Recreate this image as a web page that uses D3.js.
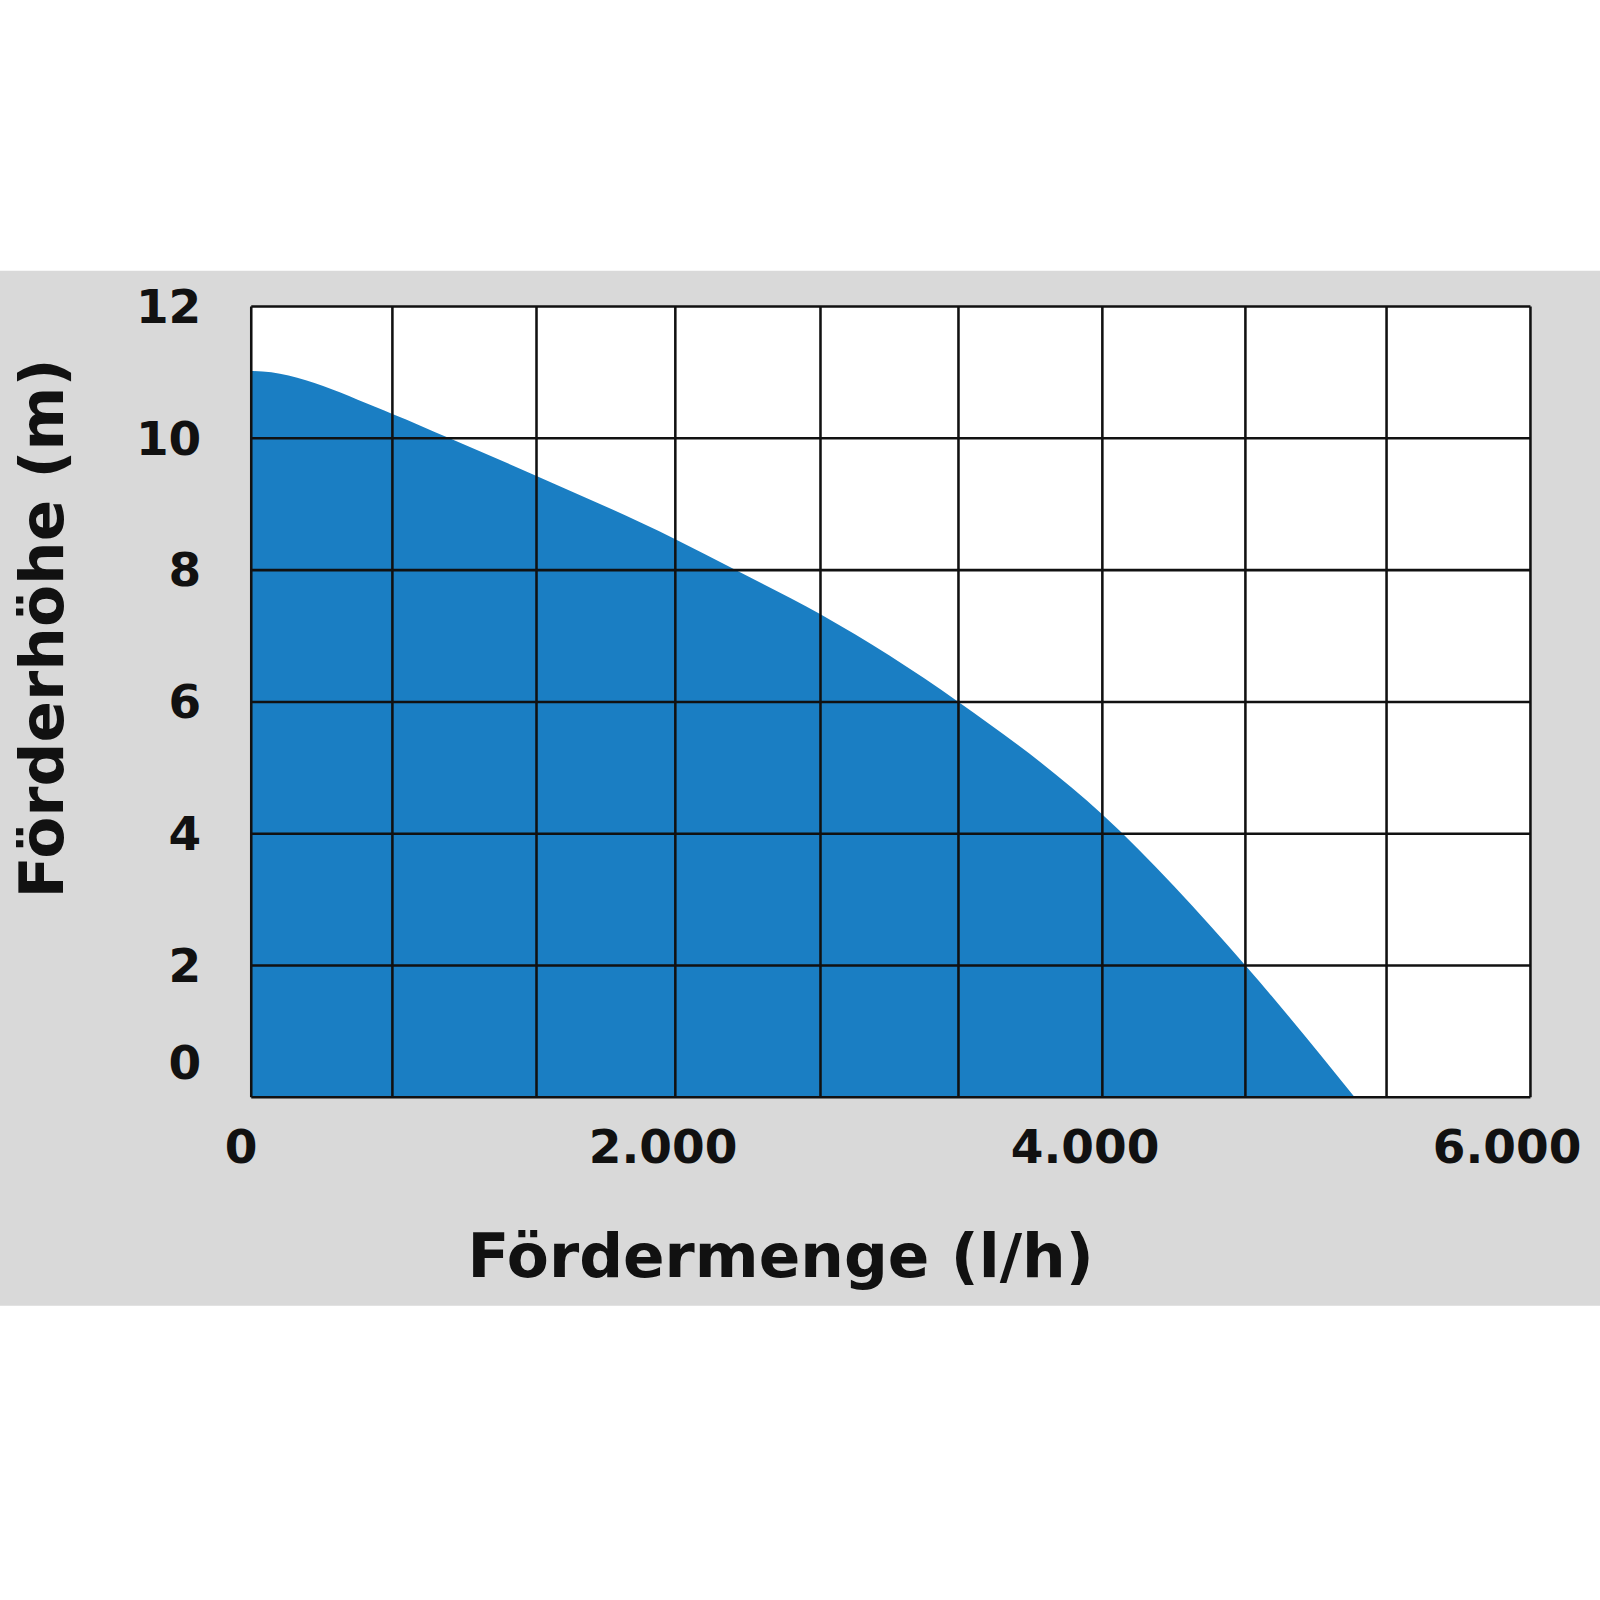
<!DOCTYPE html>
<html>
<head>
<meta charset="utf-8">
<script src="https://cdn.jsdelivr.net/npm/d3@7"></script>
<style>
body { margin: 0; background: #fff; }
text { font-family: "DejaVu Sans", sans-serif; font-weight: bold; fill: #111; }
</style>
</head>
<body>
<svg id="chart" width="1600" height="1600" viewBox="0 0 1566 1566"></svg>
<script>
// pump curve: Förderhöhe (m) over Fördermenge (l/h)
var flow = [48, 717, 988, 1400, 2058, 2344, 2746, 3400, 4082, 4760, 5278];
var head = [11.02, 10.37, 10.0, 9.43, 8.47, 8.0, 7.33, 6.0, 4.29, 2.0, 0];

var gridX = [48, 717, 1400, 2058, 2746, 3400, 4082, 4760, 5429, 6111];
var gridY = [0, 2, 4, 6, 8, 10, 12];

var xTicks = [0, 2000, 4000, 6000];
var xTickLabels = ["0", "2.000", "4.000", "6.000"];
var yTicks = [12, 10, 8, 6, 4, 2, 0.52];
var yTickLabels = ["12", "10", "8", "6", "4", "2", "0"];

var svg = d3.select("#chart");

var x = d3.scaleLinear().domain([0, 6000]).range([236, 1475]);
var y = d3.scaleLinear().domain([0, 12]).range([1074, 300]);

// grey band
svg.append("rect").attr("x", 0).attr("y", 265).attr("width", 1566).attr("height", 1013).attr("fill", "#d9d9d9");

var x0 = x(gridX[0]), x1 = x(gridX[gridX.length - 1]);
svg.append("rect").attr("x", x0).attr("y", y(12)).attr("width", x1 - x0).attr("height", y(0) - y(12)).attr("fill", "#fff");

svg.append("clipPath").attr("id", "plot").append("rect")
	.attr("x", x0).attr("y", y(12)).attr("width", x1 - x0).attr("height", y(0) - y(12));

var area = d3.area()
	.x(function(d) { return x(d[0]); })
	.y0(y(0))
	.y1(function(d) { return y(d[1]); })
	.curve(d3.curveMonotoneX);

var pts = flow.map(function(f, i) { return [f, head[i]]; });
pts.unshift([0, head[0]]);

svg.append("path").datum(pts).attr("d", area).attr("fill", "#1a7ec3").attr("clip-path", "url(#plot)");

// grid
svg.selectAll(".vline").data(gridX).enter().append("line")
	.attr("x1", function(d) { return x(d); }).attr("x2", function(d) { return x(d); })
	.attr("y1", y(12)).attr("y2", y(0))
	.attr("stroke", "#111").attr("stroke-width", 2.5);
svg.selectAll(".hline").data(gridY).enter().append("line")
	.attr("y1", function(d) { return y(d); }).attr("y2", function(d) { return y(d); })
	.attr("x1", x0).attr("x2", x1)
	.attr("stroke", "#111").attr("stroke-width", 2.5);

// tick labels
svg.selectAll(".xt").data(xTicks).enter().append("text")
	.attr("x", function(d) { return x(d); }).attr("y", 1138)
	.attr("text-anchor", "middle").attr("font-size", 46)
	.text(function(d, i) { return xTickLabels[i]; });
svg.selectAll(".yt").data(yTicks).enter().append("text")
	.attr("x", 197).attr("y", function(d) { return y(d) + 16; })
	.attr("text-anchor", "end").attr("font-size", 46)
	.text(function(d, i) { return yTickLabels[i]; });

// axis titles
svg.append("text").attr("x", 764).attr("y", 1250).attr("text-anchor", "middle").attr("font-size", 60).text("Fördermenge (l/h)");
svg.append("text").attr("transform", "translate(62,615) rotate(-90)").attr("text-anchor", "middle").attr("font-size", 60).text("Förderhöhe (m)");
</script>
</body>
</html>
